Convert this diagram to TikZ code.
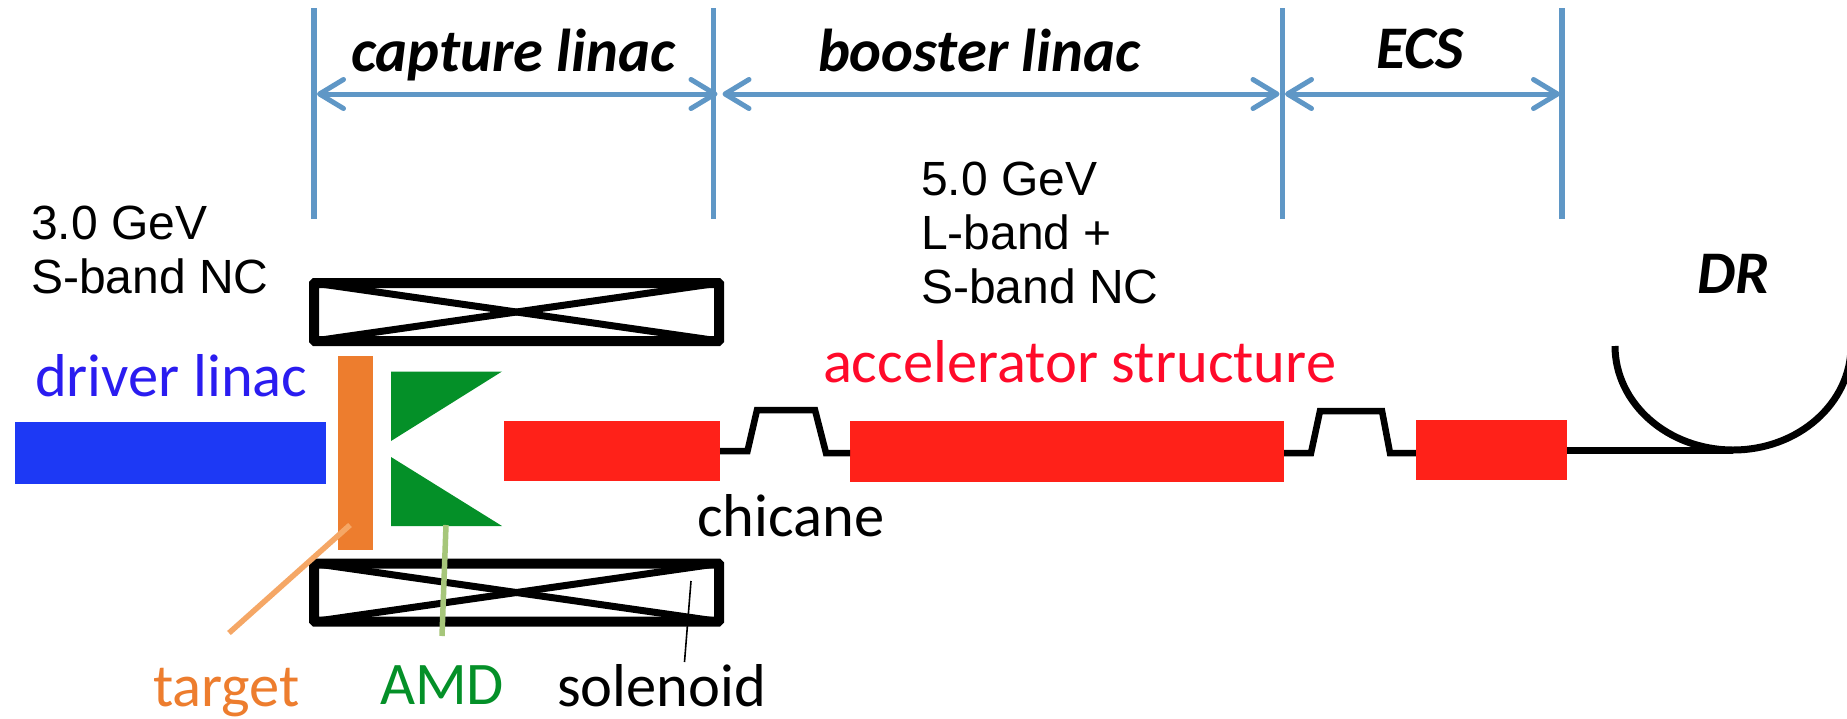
\documentclass[tikz,border=0pt]{standalone}
\usepackage{fontspec}
\setmainfont{Liberation Sans}
\newfontfamily\carl{Carlito}
\usetikzlibrary{arrows.meta}
\definecolor{dimblue}{HTML}{5F97C6}
\definecolor{beamred}{HTML}{FF2119}
\definecolor{drvblue}{HTML}{1D39F5}
\definecolor{tgtorange}{HTML}{ED7D2E}
\definecolor{amdgreen}{HTML}{049028}
\definecolor{leadorange}{HTML}{F5A766}
\definecolor{leadgreen}{HTML}{A6C67A}
\definecolor{txtred}{HTML}{FF0A2A}
\definecolor{txtblue}{HTML}{2A1CF0}
\tikzset{
  box/.style={inner sep=0pt,outer sep=0pt,draw=none,anchor=center},
  redbox/.style={box,fill=beamred},
  sol/.style={draw=black,line width=10pt,rounded corners=1pt,inner sep=0pt,outer sep=0pt,anchor=center,minimum width=405pt,minimum height=58pt},
  solx/.style={draw=black,line width=7pt},
  beam/.style={draw=black,line width=6.5pt,line join=miter},
  limit/.style={draw=dimblue,line width=5.5pt},
  span/.style={draw=dimblue,line width=5pt,{Straight Barb[length=24pt,width=29pt,round]}-{Straight Barb[length=24pt,width=29pt,round]}},
  arml/.style={inner sep=0pt,outer sep=0pt,anchor=north west,align=left,font=\fontsize{48}{54}\selectfont},
  cb/.style={inner sep=0pt,outer sep=0pt,anchor=base west,font=\carl\fontsize{60.5}{64}\selectfont},
  head/.style={inner sep=0pt,outer sep=0pt,anchor=base west,font=\carl\bfseries\itshape\fontsize{60.5}{64}\selectfont},
}
\begin{document}
\begin{tikzpicture}[x=1pt,y=-1pt]
\useasboundingbox[fill=white] (0,0) rectangle (1847,718);
% limits
\coordinate (l1t) at (314,8);\coordinate (l1b) at (314,219);
\coordinate (l2t) at (713.5,8);\coordinate (l2b) at (713.5,219);
\coordinate (l3t) at (1282.5,8);\coordinate (l3b) at (1282.5,219);
\coordinate (l4t) at (1562,8);\coordinate (l4b) at (1562,219);
\draw[limit] (l1t)--(l1b);
\draw[limit] (l2t)--(l2b);
\draw[limit] (l3t)--(l3b);
\draw[limit] (l4t)--(l4b);
\coordinate (a1l) at (317,94);\coordinate (a1r) at (717.5,94);
\coordinate (a2l) at (722.5,94);\coordinate (a2r) at (1279.5,94);
\coordinate (a3l) at (1285,94);\coordinate (a3r) at (1560,94);
\draw[span] (a1l)--(a1r);
\draw[span] (a2l)--(a2r);
\draw[span] (a3l)--(a3r);
\node[head] (capt) at (351,71) {capture linac};
\node[head] (boost) at (818,71) {booster linac};
\node[head] (ecs) at (1376,68) {ECS};
\node[head] (dr) at (1697,293) {DR};
% solenoids
\node[sol] (soltop) at (516.5,312) {};
\node[sol] (solbot) at (516.5,592.5) {};
\draw[solx] (soltop.north west)--(soltop.south east);
\draw[solx] (soltop.south west)--(soltop.north east);
\draw[solx] (solbot.north west)--(solbot.south east);
\draw[solx] (solbot.south west)--(solbot.north east);
% driver, target, AMD
\node[box,fill=drvblue,minimum width=311pt,minimum height=62pt] (driver) at (170.5,453) {};
\node[box,fill=tgtorange,minimum width=35pt,minimum height=194pt] (tgt) at (355.5,453) {};
\fill[amdgreen] (391,371.5)--(502,371.5)--(391,441)--cycle;
\fill[amdgreen] (391,457)--(502,526)--(391,526)--cycle;
\coordinate (amdb) at (446,525);
\coordinate (tgtl) at (350,525);
\coordinate (tgtend) at (229,633);
\coordinate (amdend) at (442,636);
\draw[draw=leadorange,line width=5.5pt] (tgtl)--(tgtend);
\draw[draw=leadgreen,line width=5.5pt] (amdb)--(amdend);
\coordinate (soll) at (691,581);\coordinate (solend) at (684.5,662);
\draw[line width=1.6pt] (soll)--(solend);
% beamline
\node[redbox,minimum width=216pt,minimum height=60.5pt] (r1) at (612,451) {};
\node[redbox,minimum width=434pt,minimum height=61pt] (r2) at (1067,451) {};
\node[redbox,minimum width=151.5pt,minimum height=60pt] (r3) at (1491.5,450) {};
\draw[beam] (r1.east)--(747.5,451)--(757,410)--(815,410)--(826,453)--(r2.west|-0,453);
\draw[beam] (r2.east|-0,453)--(1311,453)--(1320,411)--(1382,411)--(1390,453)--(r3.west|-0,453);
\coordinate (drb) at (1733,450);
\draw[draw=black,line width=7pt] (r3.east)--(drb);
\begin{scope}
\clip (1590,300) rectangle (1847,480);
\draw[draw=black,line width=7pt] (1615,346) arc[start angle=180,end angle=0,x radius=118,y radius=104];
\end{scope}
% labels
\node[arml] (lab3) at (31,206) {3.0 GeV\\S-band NC};
\node[arml] (lab5) at (921,161.5) {5.0 GeV\\L-band +\\S-band NC};
\node[cb,text=txtblue] (ldrv) at (35,396.5) {driver linac};
\node[cb,text=txtred] (lacc) at (823,382) {accelerator structure};
\node[cb,text=black] (lchi) at (697,536) {chicane};
\node[cb,text=tgtorange] (ltgt) at (153,706) {target};
\node[cb,text=amdgreen] (lamd) at (380,704) {AMD};
\node[cb,text=black] (lsol) at (557,706) {solenoid};
\end{tikzpicture}
\end{document}
